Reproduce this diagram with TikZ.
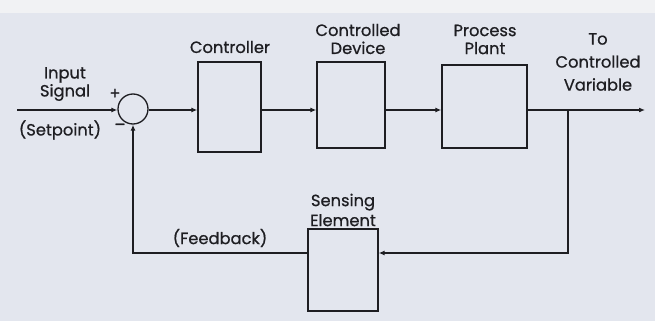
\documentclass[tikz,border=0pt]{standalone}
\usepackage{fontspec}
\newfontfamily\lblfont{Poppins}[FakeBold=0.7]
\usetikzlibrary{arrows.meta}
\definecolor{bg}{HTML}{E3E6EE}
\definecolor{topband}{HTML}{F1F2F4}
\definecolor{ink}{HTML}{1E1E22}
\tikzset{
  x=1pt, y=-1pt,
  blk/.style={draw=ink, line width=1.3pt, minimum width=0pt, inner sep=0pt},
  lbl/.style={font=\lblfont\fontsize{16.3}{18}\selectfont, text=ink, align=center, inner sep=0pt},
  conn/.style={draw=ink, line width=1.2pt},
  arr/.style={conn, -{Latex[length=6pt,width=5pt]}},
}
\begin{document}
\begin{tikzpicture}
\useasboundingbox (0,0) rectangle (655,321);
\fill[bg] (0,0) rectangle (655,321);
\fill[topband] (0,0) rectangle (655,13);
% blocks
\node[blk, minimum width=63pt, minimum height=90pt] (ctrl) at (229.5,107) {};
\node[blk, minimum width=68pt, minimum height=86pt] (dev) at (351,105) {};
\node[blk, minimum width=85pt, minimum height=83pt] (plant) at (484.5,106.5) {};
\node[blk, minimum width=70pt, minimum height=82pt] (sens) at (343,270) {};
\node[circle, draw=ink, line width=1.3pt, minimum size=30pt, inner sep=0pt] (sum) at (133,109) {};
% coordinates
\coordinate (in) at (17,110);
\coordinate (out) at (645,110);
\coordinate (tap) at (568,110);
\coordinate (tapd) at (568,253);
\coordinate (fbc) at (133,253);
% connectors
\draw[arr] (in) -- (in -| sum.west);
\draw[arr] (sum.east |- 0,110) -- (ctrl.west |- 0,110);
\draw[arr] (ctrl.east |- 0,110) -- (dev.west |- 0,110);
\draw[arr] (dev.east |- 0,110) -- (plant.west |- 0,110);
\draw[arr] (plant.east |- 0,110) -- (out);
\draw[arr] (tap) -- (tapd) -- (sens.east |- tapd);
\draw[arr] (sens.west |- fbc) -- (fbc) -- (sum.south);
% labels
\node[lbl] (lin) at (65,84) {Input\\Signal};
\node[lbl] (lsp) at (60,130) {(Setpoint)};
\node[lbl] (lplus) at (115,94) {+};
\node[lbl] (lminus) at (120,127) {–};
\node[lbl] (lctrl) at (230,47) {Controller};
\node[lbl] (ldev) at (358,39) {Controlled\\Device};
\node[lbl] (lplant) at (485,39.5) {Process\\Plant};
\node[lbl, font=\lblfont\fontsize{16.3}{23}\selectfont] (lout) at (598,62) {To\\Controlled\\Variable};
\node[lbl, font=\lblfont\fontsize{16.3}{20}\selectfont] (lsens) at (343,210) {Sensing\\Element};
\node[lbl] (lfb) at (220,238) {(Feedback)};
\end{tikzpicture}
\end{document}
